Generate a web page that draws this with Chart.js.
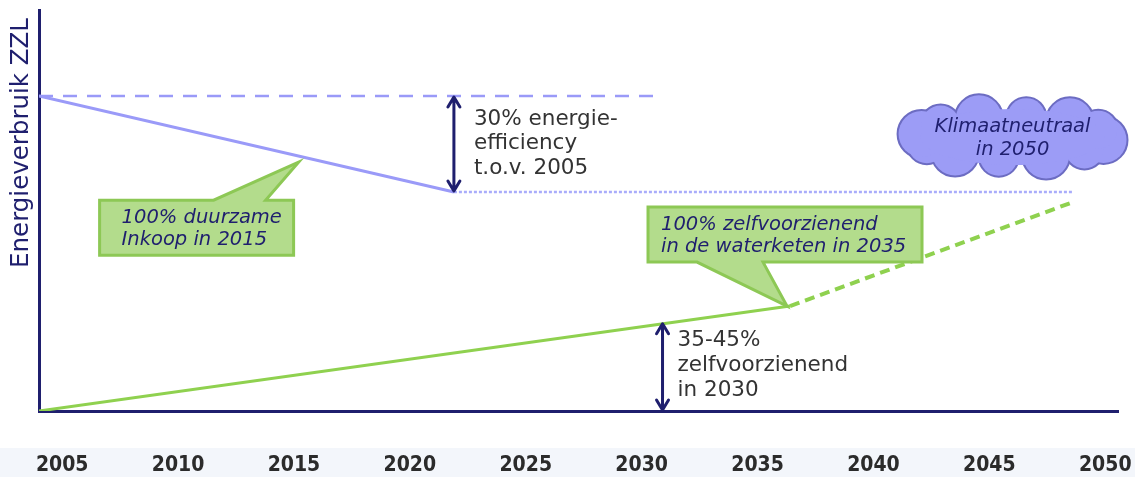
<!DOCTYPE html>
<html>
<head>
<meta charset="utf-8">
<script src="https://cdn.jsdelivr.net/npm/chart.js@4.4.1/dist/chart.umd.min.js"></script>
<style>
  html, body { margin: 0; padding: 0; background: #fff; }
  #wrap { width: 1135px; height: 477px; }
</style>
</head>
<body>
<div id="wrap"><canvas id="chart"></canvas></div>
<script>
// tick labels on the time axis
const tickYears = [2005, 2010, 2015, 2020, 2025, 2030, 2035, 2040, 2045, 2050];

// energy use, 2005 = 100
const energyYears = [2004, 2021.9];
const energyValues = [100, 69.5];
const energyRefYears = [2004, 2030.6];
const energyRefValues = [100, 100];
const energyGoalYears = [2021.9, 2048.6];
const energyGoalValues = [69.5, 69.5];

// self supply
const selfYears = [2004, 2036.4];
const selfValues = [0, 33.3];
const selfGoalYears = [2036.4, 2048.6];
const selfGoalValues = [33.3, 66.3];

// double arrows (year, low, high)
const arrowYears = [2021.9, 2030.9];
const arrowLow = [69.5, 0];
const arrowHigh = [100, 28];

const yTitle = 'Energieverbruik ZZL';
const noteEnergy = ['30% energie-', 'efficiency', 't.o.v. 2005'];
const noteSelf = ['35-45%', 'zelfvoorzienend', 'in 2030'];
const calloutBuy = ['100% duurzame', 'Inkoop in 2015'];
const calloutWater = ['100% zelfvoorzienend', 'in de waterketen in 2035'];
const cloudText = ['Klimaatneutraal', 'in 2050'];

const navy = '#1f1f6e';
const pts = (xs, ys) => xs.map((x, i) => ({x: x, y: ys[i]}));

function arrow(ctx, x, top, bottom) {
  ctx.save();
  ctx.strokeStyle = navy;
  ctx.lineWidth = 3;
  ctx.lineCap = 'round';
  ctx.lineJoin = 'round';
  ctx.beginPath();
  ctx.moveTo(x, top + 2); ctx.lineTo(x, bottom - 2);
  ctx.moveTo(x - 6, top + 11); ctx.lineTo(x, top + 1); ctx.lineTo(x + 6, top + 11);
  ctx.moveTo(x - 6, bottom - 11); ctx.lineTo(x, bottom - 1); ctx.lineTo(x + 6, bottom - 11);
  ctx.stroke();
  ctx.restore();
}

function note(ctx, x, y, lines, step) {
  ctx.save();
  ctx.fillStyle = '#333';
  ctx.font = '21.5px "DejaVu Sans"';
  ctx.textBaseline = 'middle';
  lines.forEach((s, i) => ctx.fillText(s, x, y + i * step));
  ctx.restore();
}

function callout(ctx, tx, ty, b, lines) {
  const l = tx + b.l, r = tx + b.r, t = ty + b.t, bt = ty + b.b;
  ctx.save();
  ctx.beginPath();
  if (b.side === 'top') {
    ctx.moveTo(l, t); ctx.lineTo(tx + b.a, t); ctx.lineTo(tx, ty); ctx.lineTo(tx + b.c, t);
    ctx.lineTo(r, t); ctx.lineTo(r, bt); ctx.lineTo(l, bt);
  } else {
    ctx.moveTo(l, t); ctx.lineTo(r, t); ctx.lineTo(r, bt); ctx.lineTo(tx + b.c, bt);
    ctx.lineTo(tx, ty); ctx.lineTo(tx + b.a, bt); ctx.lineTo(l, bt);
  }
  ctx.closePath();
  ctx.fillStyle = '#b3dc8c';
  ctx.fill();
  ctx.strokeStyle = '#8dc855';
  ctx.lineWidth = 3;
  ctx.lineJoin = 'miter';
  ctx.stroke();
  ctx.fillStyle = navy;
  ctx.font = 'italic 19.5px "DejaVu Sans"';
  ctx.textBaseline = 'middle';
  lines.forEach((s, i) => ctx.fillText(s, l + b.tx, t + 18 + i * 22));
  ctx.restore();
}

function cloud(ctx, cx, cy, lines) {
  const rx = 92, ry = 20, n = 12;
  const circles = [];
  for (let i = 0; i < n; i++) {
    const a = i / n * Math.PI * 2 + 0.15;
    circles.push([cx + Math.cos(a) * rx, cy + Math.sin(a) * ry, i % 2 ? 19 : 23]);
  }
  ctx.save();
  ctx.strokeStyle = '#6c6cc2';
  ctx.lineWidth = 4;
  circles.forEach(c => { ctx.beginPath(); ctx.arc(c[0], c[1], c[2], 0, Math.PI * 2); ctx.stroke(); });
  ctx.fillStyle = '#9c9cf6';
  circles.forEach(c => { ctx.beginPath(); ctx.arc(c[0], c[1], c[2], 0, Math.PI * 2); ctx.fill(); });
  ctx.beginPath();
  ctx.ellipse(cx, cy, rx, ry + 8, 0, 0, Math.PI * 2);
  ctx.fill();
  ctx.fillStyle = navy;
  ctx.font = 'italic 19.5px "DejaVu Sans"';
  ctx.textAlign = 'center';
  ctx.textBaseline = 'middle';
  ctx.fillText(lines[0], cx, cy - 10);
  ctx.fillText(lines[1], cx, cy + 13);
  ctx.restore();
}

const stripPlugin = {
  id: 'strip',
  beforeDraw(chart) {
    const ctx = chart.ctx, xs = chart.scales.x;
    ctx.save();
    ctx.fillStyle = '#f3f6fb';
    ctx.fillRect(0, xs.top + 37, chart.width, chart.height);
    ctx.restore();
  }
};

const notesPlugin = {
  id: 'notes',
  afterDatasetsDraw(chart) {
    const ctx = chart.ctx, xs = chart.scales.x, ys = chart.scales.y;
    const px = v => xs.getPixelForValue(v), py = v => ys.getPixelForValue(v);

    // y axis title, placed near the top of the axis
    ctx.save();
    ctx.translate(ys.left + 22, chart.chartArea.top + 8);
    ctx.rotate(-Math.PI / 2);
    ctx.fillStyle = navy;
    ctx.font = '24.5px "DejaVu Sans"';
    ctx.textAlign = 'right';
    ctx.textBaseline = 'middle';
    ctx.fillText(yTitle, 0, 0);
    ctx.restore();

    arrowYears.forEach((yr, i) => arrow(ctx, px(yr), py(arrowHigh[i]), py(arrowLow[i])));
    note(ctx, px(arrowYears[0]) + 20, py(arrowHigh[0]) + 23, noteEnergy, 24.5);
    note(ctx, px(arrowYears[1]) + 15, py(arrowHigh[1]) + 18, noteSelf, 25);

    callout(ctx, px(2015.2), py(79), {side: 'top', l: -199, r: -5, t: 38, b: 93, a: -85, c: -33, tx: 22}, calloutBuy);
    callout(ctx, px(selfYears[1]) - 3, py(selfValues[1]), {side: 'bottom', l: -139, r: 135, t: -99, b: -44, a: -90, c: -24, tx: 13}, calloutWater);

    cloud(ctx, px(2046), py(87), cloudText);
  }
};

new Chart(document.getElementById('chart'), {
  type: 'line',
  data: {
    datasets: [
      {data: pts(energyRefYears, energyRefValues), borderColor: '#9a9af8', borderWidth: 2.5, borderDash: [14, 10]},
      {data: pts(energyYears, energyValues), borderColor: '#9a9af8', borderWidth: 3},
      {data: pts(energyGoalYears, energyGoalValues), borderColor: '#a9acfb', borderWidth: 2.5, borderDash: [3, 2]},
      {data: pts(selfYears, selfValues), borderColor: '#8fd14f', borderWidth: 3},
      {data: pts(selfGoalYears, selfGoalValues), borderColor: '#8fd14f', borderWidth: 4, borderDash: [10, 6]}
    ]
  },
  options: {
    responsive: true,
    maintainAspectRatio: false,
    animation: false,
    elements: {point: {radius: 0}, line: {tension: 0, fill: false}},
    layout: {padding: {top: 10, right: 17, left: 0, bottom: 0}},
    plugins: {legend: {display: false}, tooltip: {enabled: false}},
    scales: {
      x: {
        type: 'linear',
        min: 2004,
        max: 2050.55,
        grid: {display: false},
        border: {display: true, color: navy, width: 3},
        afterBuildTicks: s => { s.ticks = tickYears.map(v => ({value: v})); },
        afterFit: s => { s.height = 66; s.paddingLeft = 0; s.paddingRight = 0; },
        ticks: {
          padding: 34,
          color: '#2b2b2b',
          font: {family: '"DejaVu Sans Condensed", "DejaVu Sans"', size: 21, weight: 'bold'},
          maxRotation: 0,
          callback: v => String(v)
        }
      },
      y: {
        min: 0,
        max: 127.3,
        grid: {display: false},
        border: {display: true, color: navy, width: 3},
        ticks: {display: false},
        afterFit: s => { s.width = 39; s.paddingTop = 0; s.paddingBottom = 0; }
      }
    }
  },
  plugins: [stripPlugin, notesPlugin]
});
</script>
</body>
</html>
